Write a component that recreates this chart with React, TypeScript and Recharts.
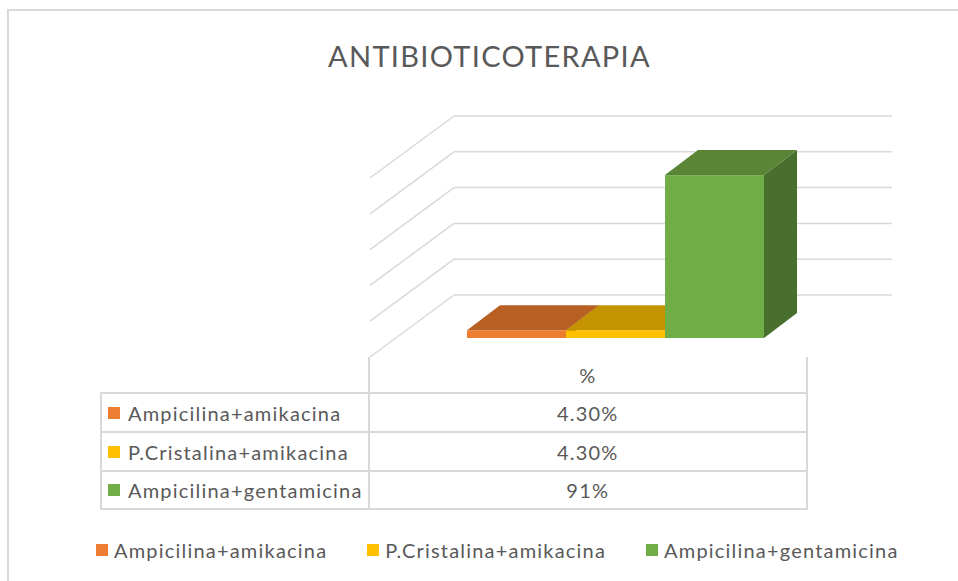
import React from 'react';
import { BarChart, Bar, XAxis, YAxis, CartesianGrid, Legend } from 'recharts';

// chart values
const CATEGORIES = ['%'];
const SERIES_NAMES = ['Ampicilina+amikacina', 'P.Cristalina+amikacina', 'Ampicilina+gentamicina'];
const SERIES_VALUES = [0.043, 0.043, 0.91];
const TABLE_LABELS = ['4.30%', '4.30%', '91%'];
const Y_TICKS = [0, 0.2, 0.4, 0.6, 0.8, 1];

const FRONT = ['#ED7D31', '#FFC000', '#70AD47'];
const TOP = ['#B86024', '#C39300', '#5A8537'];
const SIDE = ['#9E4F1C', '#A67C00', '#486F2D'];

const GRID = '#d9d9d9';
const TEXT = '#595959';
const FONT = 'Lato, "Open Sans", sans-serif';
const LABEL_FONT: React.CSSProperties = { fontFamily: FONT, fontSize: 20, letterSpacing: 1.2, color: TEXT };

// oblique offsets for the fake 3D
const BAR_DEPTH = { dx: 33, dy: -25 };
const WALL = { dx: 58, dy: -43 };
const FLOOR_FRONT = { dx: -26, dy: 19 };

const data = CATEGORIES.map((cat, c) => {
  const row: Record<string, any> = { cat };
  SERIES_NAMES.forEach((name, i) => {
    row[name] = c === 0 ? SERIES_VALUES[i] : 0;
  });
  return row;
});

const makeBox = (i: number) => (props: any) => {
  const { x, y, width, height } = props;
  if (width == null || height == null) return <g />;
  const { dx, dy } = BAR_DEPTH;
  const r = x + width;
  const b = y + height;
  return (
    <g>
      <polygon points={`${r},${y} ${r + dx},${y + dy} ${r + dx},${b + dy} ${r},${b}`} fill={SIDE[i]} />
      <rect x={x} y={y} width={width} height={height} fill={FRONT[i]} />
      <polygon points={`${x},${y} ${r},${y} ${r + dx},${y + dy} ${x + dx},${y + dy}`} fill={TOP[i]} />
    </g>
  );
};

const gridLine = (props: any) => {
  const { x1, x2, y1, index } = props;
  return (
    <g key={`gl-${index}`}>
      <line x1={x1 + WALL.dx} y1={y1 + WALL.dy} x2={x2 + WALL.dx} y2={y1 + WALL.dy} stroke={GRID} strokeWidth={1.5} />
      <line x1={x1 + WALL.dx} y1={y1 + WALL.dy} x2={x1 + FLOOR_FRONT.dx} y2={y1 + FLOOR_FRONT.dy} stroke={GRID} strokeWidth={1.5} />
    </g>
  );
};

const LegendContent = (props: any) => {
  const items = [...(props.payload || [])].sort(
    (a: any, b: any) => SERIES_NAMES.indexOf(a.value) - SERIES_NAMES.indexOf(b.value)
  );
  return (
    <div style={{ display: 'flex', gap: 40, whiteSpace: 'nowrap', ...LABEL_FONT }}>
      {items.map((p: any) => (
        <div key={p.value} style={{ display: 'flex', alignItems: 'center' }}>
          <span style={{ display: 'inline-block', width: 12, height: 12, background: p.color, marginRight: 6 }} />
          <span>{p.value}</span>
        </div>
      ))}
    </div>
  );
};

const line = (style: React.CSSProperties) => (
  <div style={{ position: 'absolute', background: GRID, ...style }} />
);

const DataTable = () => {
  const left = 93;
  const mid = 360.5;
  const right = 799;
  const top = 349;
  const rows = [385, 424, 463, 501];
  return (
    <div style={{ position: 'absolute', left: 0, top: 0, ...LABEL_FONT }}>
      {line({ left: mid - 1, top, width: 2, height: rows[3] - top + 1 })}
      {line({ left: right - 1, top, width: 2, height: rows[3] - top + 1 })}
      {line({ left: left - 1, top: rows[0], width: 2, height: rows[3] - rows[0] + 1 })}
      {rows.map((ry) => (
        <React.Fragment key={ry}>{line({ left: left - 1, top: ry - 1, width: right - left + 2, height: 2 })}</React.Fragment>
      ))}
      <div style={{ position: 'absolute', left: mid, width: right - mid, top: top, height: rows[0] - top, display: 'flex', alignItems: 'center', justifyContent: 'center' }}>
        {CATEGORIES[0]}
      </div>
      {SERIES_NAMES.map((name, i) => (
        <React.Fragment key={name}>
          <div style={{ position: 'absolute', left: left + 7, top: rows[i], height: rows[i + 1] - rows[i], display: 'flex', alignItems: 'center', whiteSpace: 'nowrap' }}>
            <span style={{ display: 'inline-block', width: 12, height: 12, background: FRONT[i], marginRight: 8 }} />
            {name}
          </div>
          <div style={{ position: 'absolute', left: mid, width: right - mid, top: rows[i], height: rows[i + 1] - rows[i], display: 'flex', alignItems: 'center', justifyContent: 'center' }}>
            {TABLE_LABELS[i]}
          </div>
        </React.Fragment>
      ))}
    </div>
  );
};

export default function App() {
  return (
    <div style={{ position: 'relative', width: 958, height: 581, overflow: 'hidden', background: '#fff' }}>
      <style>{'body{margin:0;overflow:hidden}'}</style>
      <div style={{ position: 'absolute', left: 8, top: 8, width: 950, height: 573 }}>
        {/* outer chart frame, only top and left edges are inside the crop */}
        {line({ left: -1, top: 1, width: 951, height: 2 })}
        {line({ left: -1, top: 1, width: 2, height: 572 })}
        <div style={{ position: 'absolute', left: 200, width: 563, top: 30, textAlign: 'center', fontFamily: FONT, fontSize: 29, color: TEXT, letterSpacing: 1.3, whiteSpace: 'nowrap' }}>
          ANTIBIOTICOTERAPIA
        </div>
        <div style={{ position: 'absolute', left: 0, top: 0 }}>
          <BarChart width={942} height={565} data={data} margin={{ top: 151, right: 116, bottom: 235, left: 388 }} barGap={0} barCategoryGap={71}>
            <CartesianGrid vertical={false} horizontal={gridLine} />
            <XAxis dataKey="cat" hide />
            <YAxis hide domain={[0, 1]} ticks={Y_TICKS} />
            <Legend content={<LegendContent />} wrapperStyle={{ left: 88, top: 530, width: 'auto', height: 0, bottom: 'auto', overflow: 'visible' }} />
            {SERIES_NAMES.map((name, i) => (
              <Bar key={name} dataKey={name} name={name} fill={FRONT[i]} shape={makeBox(i)} isAnimationActive={false} />
            ))}
          </BarChart>
        </div>
        <DataTable />
      </div>
    </div>
  );
}
